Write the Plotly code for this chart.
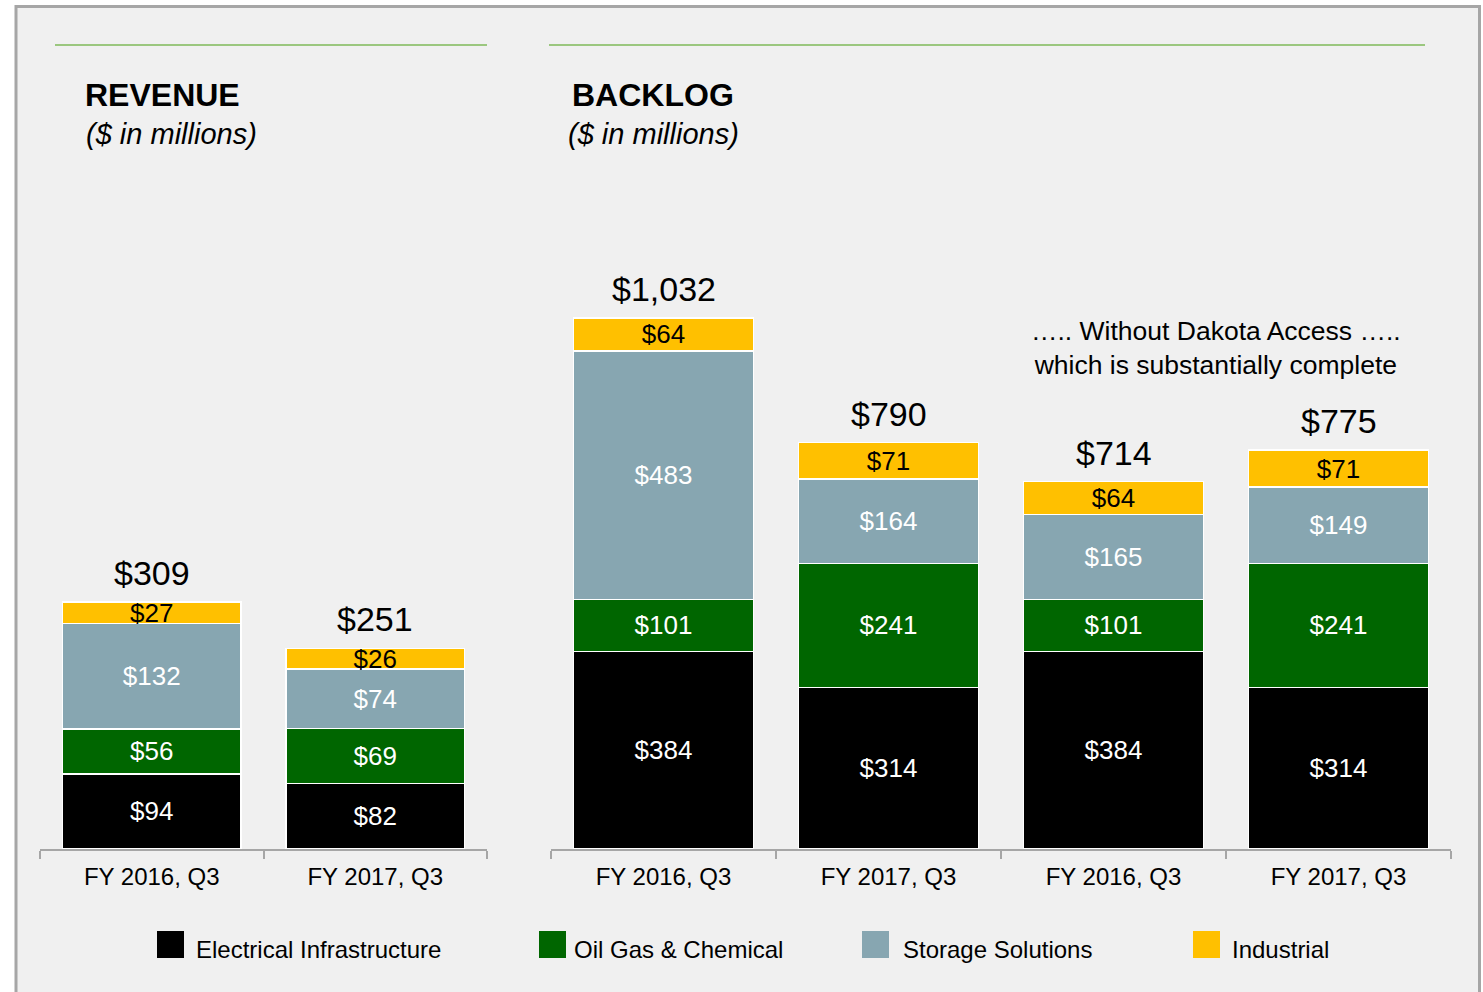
import plotly.graph_objects as go

# ---------------- data ----------------
series_names = ["Electrical Infrastructure", "Oil Gas & Chemical", "Storage Solutions", "Industrial"]
series_colors = ["#000000", "#006600", "#87A6B1", "#FFC000"]
series_text_colors = ["#FFFFFF", "#FFFFFF", "#FFFFFF", "#000000"]

revenue_periods = ["FY 2016, Q3", "FY 2017, Q3"]
revenue_electrical = [94, 82]
revenue_oilgas = [56, 69]
revenue_storage = [132, 74]
revenue_industrial = [27, 26]

backlog_periods = ["FY 2016, Q3", "FY 2017, Q3", "FY 2016, Q3", "FY 2017, Q3"]
backlog_electrical = [384, 314, 384, 314]
backlog_oilgas = [101, 241, 101, 241]
backlog_storage = [483, 164, 165, 149]
backlog_industrial = [64, 71, 64, 71]

note_text = "….. Without Dakota Access …..<br>which is substantially complete"

# ---------------- layout helpers ----------------
W, H = 1483, 992
FONT = "Arial, Liberation Sans, sans-serif"


def px(x):
    return x / W


def py(y):
    return 1 - y / H


BASE = 849  # pixel row of the baseline
LEFT_SCALE = 247 / 309.0    # px per $M, revenue panel
RIGHT_SCALE = 531 / 1032.0  # px per $M, backlog panel

fig = go.Figure()

revenue_series = [revenue_electrical, revenue_oilgas, revenue_storage, revenue_industrial]
backlog_series = [backlog_electrical, backlog_oilgas, backlog_storage, backlog_industrial]

rev_x = list(range(len(revenue_periods)))
bkl_x = list(range(len(backlog_periods)))

for vals, name, col, tcol in zip(revenue_series, series_names, series_colors, series_text_colors):
    fig.add_trace(go.Bar(
        x=rev_x, y=vals, name=name, showlegend=False,
        marker=dict(color=col, line=dict(color="white", width=1.5)),
        text=[f"${v}" for v in vals], textposition="inside", insidetextanchor="middle",
        constraintext="none", textangle=0,
        textfont=dict(family=FONT, size=26, color=tcol),
        xaxis="x", yaxis="y",
    ))

for vals, name, col, tcol in zip(backlog_series, series_names, series_colors, series_text_colors):
    fig.add_trace(go.Bar(
        x=bkl_x, y=vals, name=name, showlegend=False,
        marker=dict(color=col, line=dict(color="white", width=1.5)),
        text=[f"${v}" for v in vals], textposition="inside", insidetextanchor="middle",
        constraintext="none", textangle=0,
        textfont=dict(family=FONT, size=26, color=tcol),
        xaxis="x2", yaxis="y2",
    ))

annotations = []
# totals above bars
rev_totals = [sum(v) for v in zip(*revenue_series)]
bkl_totals = [sum(v) for v in zip(*backlog_series)]
for xi, t in zip(rev_x, rev_totals):
    annotations.append(dict(x=xi, y=t, xref="x", yref="y", text=f"${t:,}", showarrow=False,
                            xanchor="center", yanchor="bottom", yshift=8,
                            font=dict(family=FONT, size=34, color="#000000")))
for xi, t in zip(bkl_x, bkl_totals):
    annotations.append(dict(x=xi, y=t, xref="x2", yref="y2", text=f"${t:,}", showarrow=False,
                            xanchor="center", yanchor="bottom", yshift=8,
                            font=dict(family=FONT, size=34, color="#000000")))

# titles
annotations += [
    dict(x=px(83), y=py(95), xref="paper", yref="paper", text="<b>REVENUE</b>", showarrow=False,
         xanchor="left", yanchor="middle", font=dict(family=FONT, size=32, color="#000000")),
    dict(x=px(84), y=py(134), xref="paper", yref="paper", text="<i>($ in millions)</i>", showarrow=False,
         xanchor="left", yanchor="middle", font=dict(family=FONT, size=29, color="#000000")),
    dict(x=px(570), y=py(95), xref="paper", yref="paper", text="<b>BACKLOG</b>", showarrow=False,
         xanchor="left", yanchor="middle", font=dict(family=FONT, size=32, color="#000000")),
    dict(x=px(566), y=py(134), xref="paper", yref="paper", text="<i>($ in millions)</i>", showarrow=False,
         xanchor="left", yanchor="middle", font=dict(family=FONT, size=29, color="#000000")),
    dict(x=px(1216), y=py(348), xref="paper", yref="paper", text=note_text, showarrow=False,
         xanchor="center", yanchor="middle", align="center",
         font=dict(family=FONT, size=26.5, color="#000000")),
]

shapes = [
    # panel background and frame
    dict(type="rect", xref="paper", yref="paper", x0=px(16), x1=px(1479.5), y0=-0.05, y1=py(6.5),
         fillcolor="#F0F0F0", line=dict(color="#A6A6A6", width=3), layer="below"),
    # green header rules
    dict(type="line", xref="paper", yref="paper", x0=px(55), x1=px(487), y0=py(45), y1=py(45),
         line=dict(color="#9BC77F", width=2)),
    dict(type="line", xref="paper", yref="paper", x0=px(549), x1=px(1425), y0=py(45), y1=py(45),
         line=dict(color="#9BC77F", width=2)),
]

# manual legend
legend_box_x = [157, 539, 862, 1193]
legend_text_x = [194, 572, 901, 1230]
for name, col, bx, tx in zip(series_names, series_colors, legend_box_x, legend_text_x):
    shapes.append(dict(type="rect", xref="paper", yref="paper", x0=px(bx), x1=px(bx + 27),
                       y0=py(958), y1=py(931), fillcolor=col, line=dict(width=0)))
    annotations.append(dict(x=px(tx), y=py(949), xref="paper", yref="paper", text=name, showarrow=False,
                            xanchor="left", yanchor="middle",
                            font=dict(family=FONT, size=24, color="#000000")))

axis_common = dict(type="category", showline=True, linecolor="#A6A6A6", linewidth=2,
                   ticks="outside", ticklen=8, tickwidth=1.5, tickcolor="#A6A6A6",
                   tickson="boundaries", showgrid=False, zeroline=False, ticklabelstandoff=5,
                   tickfont=dict(family=FONT, size=24, color="#000000"), fixedrange=True)

fig.update_layout(
    width=W, height=H,
    margin=dict(l=0, r=0, t=0, b=0, pad=0),
    paper_bgcolor="#FFFFFF", plot_bgcolor="rgba(0,0,0,0)",
    barmode="stack", bargap=0.2,
    showlegend=False,
    xaxis=dict(domain=[px(40), px(487)], range=[-0.5, len(rev_x) - 0.5],
               tickvals=rev_x, ticktext=revenue_periods, anchor="y", **axis_common),
    yaxis=dict(domain=[py(BASE), 1], range=[0, BASE / LEFT_SCALE], visible=False,
               showgrid=False, zeroline=False, anchor="x"),
    xaxis2=dict(domain=[px(551), px(1451)], range=[-0.5, len(bkl_x) - 0.5],
                tickvals=bkl_x, ticktext=backlog_periods, anchor="y2", **axis_common),
    yaxis2=dict(domain=[py(BASE), 1], range=[0, BASE / RIGHT_SCALE], visible=False,
                showgrid=False, zeroline=False, anchor="x2"),
    annotations=annotations,
    shapes=shapes,
    font=dict(family=FONT),
)

fig.write_html("out.html", config={"displayModeBar": False},
               post_script="document.body.style.margin='0';document.body.style.overflow='hidden';")
